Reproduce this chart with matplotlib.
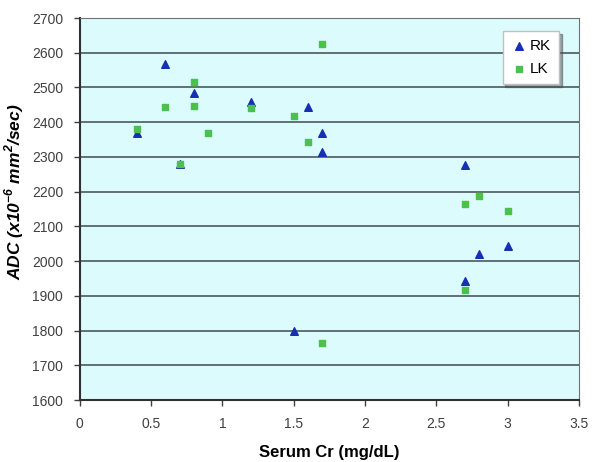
import matplotlib.pyplot as plt

# Serum Cr (mg/dL) vs ADC, right kidney
rk_x = [0.4, 0.6, 0.7, 0.8, 1.2, 1.5, 1.6, 1.7, 1.7, 2.7, 2.7, 2.8, 3.0]
rk_y = [2368, 2567, 2279, 2485, 2457, 1799, 2444, 2370, 2315, 2276, 1942, 2022, 2044]

# left kidney
lk_x = [0.4, 0.6, 0.7, 0.8, 0.8, 0.9, 1.2, 1.5, 1.6, 1.7, 1.7, 2.7, 2.7, 2.8, 3.0]
lk_y = [2380, 2443, 2279, 2515, 2448, 2370, 2440, 2417, 2344, 2626, 1763, 2165, 1916, 2188, 2145]

x_ticks = [0, 0.5, 1, 1.5, 2, 2.5, 3, 3.5]
x_ticklabels = ['0', '0.5', '1', '1.5', '2', '2.5', '3', '3.5']
y_ticks = list(range(1600, 2701, 100))

plt.rcParams['font.family'] = ['Liberation Sans', 'DejaVu Sans']
plt.rcParams['mathtext.fontset'] = 'custom'
plt.rcParams['mathtext.bf'] = 'Liberation Sans:bold:italic'
plt.rcParams['mathtext.rm'] = 'Liberation Sans:bold:italic'

fig = plt.figure(figsize=(6, 4.62), dpi=100)
ax = fig.add_axes([0.133, 0.134, 0.832, 0.827])
ax.set_facecolor('#dcfbfd')

ax.scatter(rk_x, rk_y, marker='^', s=30, color='#1530b0', label='RK', zorder=3)
ax.scatter(lk_x, lk_y, marker='s', s=18, color='#4cc04c', label='LK', zorder=3)

ax.set_xlim(0, 3.5)
ax.set_ylim(1600, 2700)
ax.set_xticks(x_ticks)
ax.set_xticklabels(x_ticklabels)
ax.set_yticks(y_ticks)
ax.yaxis.grid(True, color='#4a5a5a', linewidth=1.2)
ax.set_axisbelow(True)

for s in ax.spines.values():
    s.set_color('#707070')
ax.spines['left'].set_color('#303030')
ax.spines['bottom'].set_color('#303030')
ax.spines['left'].set_linewidth(1.5)
ax.spines['bottom'].set_linewidth(1.5)
ax.tick_params(colors='#404040', labelsize=10, length=4, width=1, pad=8)
ax.tick_params(axis='x', pad=8)

ax.set_xlabel('Serum Cr (mg/dL)', fontsize=12, fontweight='bold', labelpad=10)
ax.set_ylabel(r'ADC (x10$^{\mathrm{-6}}$ mm$^{\mathrm{2}}$/sec)', fontsize=12.5,
              fontweight='bold', fontstyle='italic')
ax.yaxis.set_label_coords(-0.108, 0.545)

leg = ax.legend(loc='upper right', bbox_to_anchor=(0.975, 0.985), fontsize=11,
                frameon=True, fancybox=False, shadow=True, handletextpad=0.1,
                borderpad=0.5, labelspacing=0.6, handlelength=1.2)
leg.get_frame().set_edgecolor('#c0c0c0')
leg.get_frame().set_facecolor('white')

fig.savefig('out.png', dpi=100)
